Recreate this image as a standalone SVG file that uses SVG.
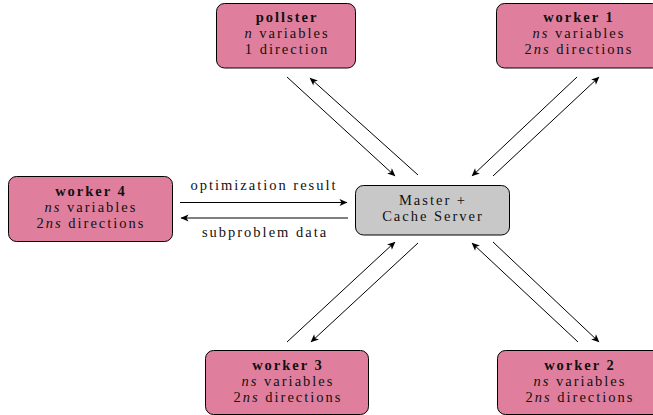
<svg xmlns="http://www.w3.org/2000/svg" width="653" height="415" viewBox="0 0 653 415">
<defs>
<marker id="ah" viewBox="-9 -5 10 10" refX="0" refY="0" markerWidth="10" markerHeight="10" markerUnits="userSpaceOnUse" orient="auto">
<path d="M0.5,0 L-7.5,-3.5 L-5.5,0 L-7.5,3.5 Z" fill="#000"/>
</marker>
<style>
.w{fill:#df7f9d;stroke:#000;stroke-width:1}
.m{fill:#c8c8c8;stroke:#000;stroke-width:1}
text{font-family:"Liberation Serif","DejaVu Serif",serif;font-size:14.5px;letter-spacing:2px;text-anchor:middle;fill:#111}
.b{font-weight:bold}
.i{font-style:italic}
.c line{stroke:#000;stroke-width:1;marker-end:url(#ah)}
</style>
</defs>
<rect width="653" height="415" fill="#fff"/>
<g id="pollster">
<rect class="w" x="216.5" y="3.5" width="139" height="64.5" rx="8"/>
<text x="287" y="22" class="b">pollster</text>
<text x="287" y="38"><tspan class="i">n</tspan> variables</text>
<text x="287" y="54">1 direction</text>
</g>
<g id="worker1">
<rect class="w" x="496.5" y="3.5" width="164" height="64.5" rx="8"/>
<text x="579" y="22" class="b">worker 1</text>
<text x="579" y="38"><tspan class="i">ns</tspan> variables</text>
<text x="579" y="54">2<tspan class="i">ns</tspan> directions</text>
</g>
<g id="worker4">
<rect class="w" x="8.5" y="176.5" width="164" height="65" rx="8"/>
<text x="91" y="195.5" class="b">worker 4</text>
<text x="91" y="211.5"><tspan class="i">ns</tspan> variables</text>
<text x="91" y="227.5">2<tspan class="i">ns</tspan> directions</text>
</g>
<g id="master">
<rect class="m" x="355.5" y="185.5" width="154" height="49.5" rx="8"/>
<text x="433" y="205">Master +</text>
<text x="433" y="221">Cache Server</text>
</g>
<g id="worker3">
<rect class="w" x="205.5" y="350.5" width="163" height="64" rx="8"/>
<text x="288" y="370" class="b">worker 3</text>
<text x="288" y="386"><tspan class="i">ns</tspan> variables</text>
<text x="288" y="402">2<tspan class="i">ns</tspan> directions</text>
</g>
<g id="worker2">
<rect class="w" x="497.5" y="350.5" width="164" height="64" rx="8"/>
<text x="580" y="370" class="b">worker 2</text>
<text x="580" y="386"><tspan class="i">ns</tspan> variables</text>
<text x="580" y="402">2<tspan class="i">ns</tspan> directions</text>
</g>
<g id="connectors" class="c">
<line x1="180" y1="202.5" x2="347" y2="202.5"/>
<line x1="348" y1="218" x2="181" y2="218"/>
<line x1="287" y1="77" x2="395" y2="176"/>
<line x1="418" y1="175" x2="310" y2="78"/>
<line x1="577" y1="77" x2="472" y2="176"/>
<line x1="493" y1="176" x2="599" y2="77"/>
<line x1="287" y1="342" x2="395" y2="242"/>
<line x1="418" y1="243" x2="311" y2="342"/>
<line x1="578" y1="342" x2="472" y2="243"/>
<line x1="493" y1="242" x2="599" y2="342"/>
</g>
<g id="labels">
<text x="264" y="190">optimization result</text>
<text x="265" y="237">subproblem data</text>
</g>
</svg>
